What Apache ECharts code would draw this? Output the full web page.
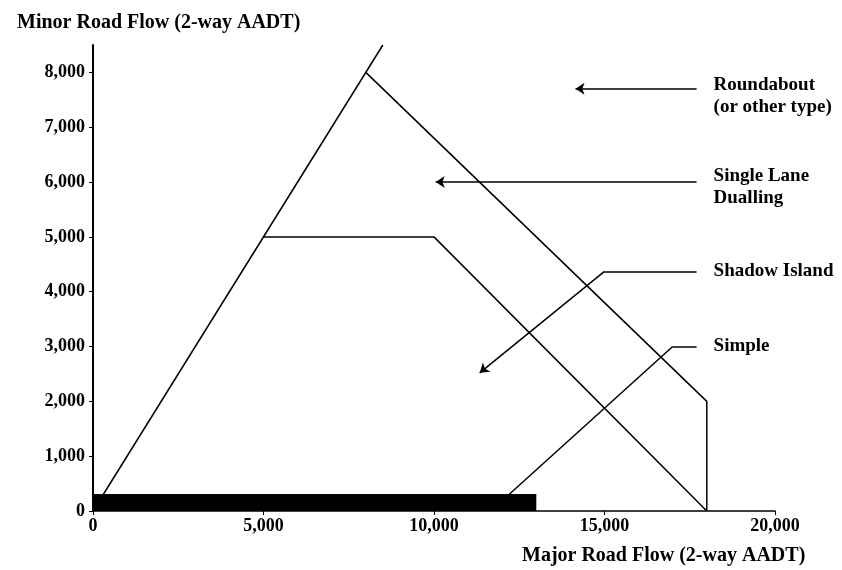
<!DOCTYPE html>
<html lang="en">
<head>
    <meta charset="utf-8">
    <title>Junction type selection</title>
    <script src="https://cdn.jsdelivr.net/npm/echarts@6.0.0/dist/echarts.min.js"></script>
</head>
<body style="margin:0;background:#fff;">
<div id="main" style="width:842px;height:570px;"></div>

<script type="text/javascript">
    // axis ticks
    var yTicks = [0, 1000, 2000, 3000, 4000, 5000, 6000, 7000, 8000];
    var xMax = 20000, yMax = 8500;

    // boundary lines [major, minor]
    var edgeLine = [[0, 0], [8500, 8500]];
    var roundaboutLine = [[8000, 8000], [18000, 2000], [18000, 0]];
    var dualLine = [[5000, 5000], [10000, 5000], [18000, 0]];
    // simple junction band (up to 13,000 major, 300 minor)
    var simpleBand = [[0, 300], [13000, 300]];

    // leader lines
    var arrowLeaders = [
        [[17700, 7700], [14150, 7700]],
        [[17700, 6000], [10050, 6000]],
        [[15000, 4370], [11340, 2520]]
    ];
    var plainLeaders = [
        [[17700, 4370], [15000, 4370]],
        [[17700, 3000], [17000, 3000]],
        [[17000, 3000], [12200, 300]]
    ];

    // label anchors (end of each leader)
    var labelNames = ['Roundabout\n(or other type)', 'Single Lane\nDualling', 'Shadow Island', 'Simple'];
    var labelPoints = [[17700, 7700], [17700, 6000], [17700, 4370], [17700, 3000]];
    var labelShift = [7, 5, 0, 0];

    var font = 'Liberation Serif';
    var ink = '#000';

    var myChart = echarts.init(document.getElementById('main'));

    var fmt = function (v) {
        if (v % 1000 !== 0) return '';
        return v.toLocaleString('en-US');
    };

    myChart.setOption({
        animation: false,
        title: [{
            text: 'Minor Road Flow (2-way AADT)',
            left: 12, top: 8,
            textStyle: {fontFamily: font, fontSize: 20, fontWeight: 'bold', color: ink}
        }, {
            text: 'Major Road Flow (2-way AADT)',
            left: 517, top: 541,
            textStyle: {fontFamily: font, fontSize: 20, fontWeight: 'bold', color: ink}
        }],
        grid: {left: 93, right: 67, top: 45, bottom: 59},
        xAxis: {
            type: 'value', min: 0, max: xMax, interval: 5000,
            splitLine: {show: false},
            axisLine: {lineStyle: {color: ink, width: 1.5}},
            axisTick: {length: 4, lineStyle: {color: ink}},
            axisLabel: {
                formatter: fmt, margin: 6, color: ink,
                fontFamily: font, fontSize: 18, fontWeight: 'bold'
            }
        },
        yAxis: {
            type: 'value', min: 0, max: yMax, interval: 1000,
            splitLine: {show: false},
            axisLine: {show: true, lineStyle: {color: ink, width: 2}},
            axisTick: {show: true, length: 4, customValues: yTicks, lineStyle: {color: ink}},
            axisLabel: {
                customValues: yTicks, formatter: fmt, margin: 8, color: ink,
                fontFamily: font, fontSize: 18, fontWeight: 'bold'
            }
        },
        series: [{
            type: 'line', data: edgeLine, symbol: 'none',
            lineStyle: {color: ink, width: 1.5}
        }, {
            type: 'line', data: roundaboutLine, symbol: 'none',
            lineStyle: {color: ink, width: 1.5}
        }, {
            type: 'line', data: dualLine, symbol: 'none',
            lineStyle: {color: ink, width: 1.5}
        }, {
            type: 'line', data: simpleBand, symbol: 'none',
            lineStyle: {color: '#000', width: 1},
            areaStyle: {color: '#000', opacity: 1}
        }, {
            type: 'lines', coordinateSystem: 'cartesian2d',
            symbol: ['none', 'arrow'], symbolSize: [6, 9],
            lineStyle: {color: ink, width: 1.5, opacity: 1},
            data: arrowLeaders.map(function (c) { return {coords: c}; })
        }, {
            type: 'lines', coordinateSystem: 'cartesian2d',
            symbol: 'none',
            lineStyle: {color: ink, width: 1.5, opacity: 1},
            data: plainLeaders.map(function (c) { return {coords: c}; })
        }, {
            type: 'scatter', symbolSize: 0,
            itemStyle: {color: '#000'},
            data: labelPoints.map(function (p, i) {
                return {
                    value: p,
                    label: {
                        show: true, position: 'right', distance: 17,
                        offset: [0, labelShift[i]],
                        formatter: labelNames[i],
                        align: 'left', lineHeight: 22, opacity: 1,
                        fontFamily: font, fontSize: 19, fontWeight: 'bold', color: ink
                    }
                };
            })
        }]
    });
</script>
</body>
</html>
